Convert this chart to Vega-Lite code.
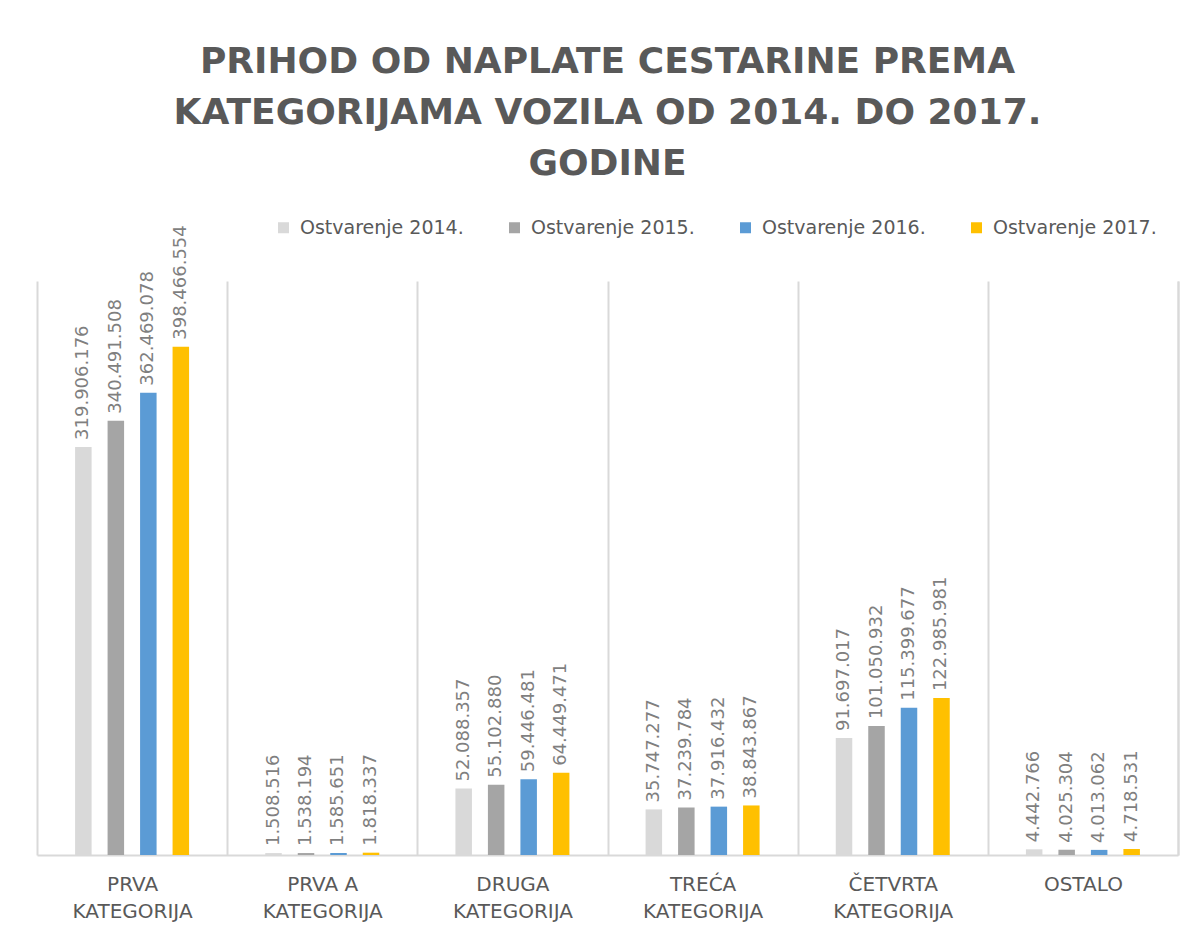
{
  "$schema": "https://vega.github.io/schema/vega-lite/v6.json",
  "width": 1141,
  "height": 574,
  "autosize": {"type": "none"},
  "padding": {"left": 37, "top": 281, "right": 19, "bottom": 77},
  "background": "white",
  "title": {
    "text": ["PRIHOD OD NAPLATE CESTARINE PREMA", "KATEGORIJAMA VOZILA OD 2014. DO  2017.", "GODINE"],
    "anchor": "middle",
    "font": "DejaVu Sans",
    "fontSize": 36,
    "fontWeight": "bold",
    "color": "#595959",
    "lineHeight": 51,
    "offset": 35
  },
  "data": {
    "values": [
      {"kategorija": "Prva kategorija", "serija": "Ostvarenje 2014.", "prihod": 319906176},
      {"kategorija": "Prva kategorija", "serija": "Ostvarenje 2015.", "prihod": 340491508},
      {"kategorija": "Prva kategorija", "serija": "Ostvarenje 2016.", "prihod": 362469078},
      {"kategorija": "Prva kategorija", "serija": "Ostvarenje 2017.", "prihod": 398466554},
      {"kategorija": "Prva A kategorija", "serija": "Ostvarenje 2014.", "prihod": 1508516},
      {"kategorija": "Prva A kategorija", "serija": "Ostvarenje 2015.", "prihod": 1538194},
      {"kategorija": "Prva A kategorija", "serija": "Ostvarenje 2016.", "prihod": 1585651},
      {"kategorija": "Prva A kategorija", "serija": "Ostvarenje 2017.", "prihod": 1818337},
      {"kategorija": "Druga kategorija", "serija": "Ostvarenje 2014.", "prihod": 52088357},
      {"kategorija": "Druga kategorija", "serija": "Ostvarenje 2015.", "prihod": 55102880},
      {"kategorija": "Druga kategorija", "serija": "Ostvarenje 2016.", "prihod": 59446481},
      {"kategorija": "Druga kategorija", "serija": "Ostvarenje 2017.", "prihod": 64449471},
      {"kategorija": "Treća kategorija", "serija": "Ostvarenje 2014.", "prihod": 35747277},
      {"kategorija": "Treća kategorija", "serija": "Ostvarenje 2015.", "prihod": 37239784},
      {"kategorija": "Treća kategorija", "serija": "Ostvarenje 2016.", "prihod": 37916432},
      {"kategorija": "Treća kategorija", "serija": "Ostvarenje 2017.", "prihod": 38843867},
      {"kategorija": "Četvrta kategorija", "serija": "Ostvarenje 2014.", "prihod": 91697017},
      {"kategorija": "Četvrta kategorija", "serija": "Ostvarenje 2015.", "prihod": 101050932},
      {"kategorija": "Četvrta kategorija", "serija": "Ostvarenje 2016.", "prihod": 115399677},
      {"kategorija": "Četvrta kategorija", "serija": "Ostvarenje 2017.", "prihod": 122985981},
      {"kategorija": "Ostalo", "serija": "Ostvarenje 2014.", "prihod": 4442766},
      {"kategorija": "Ostalo", "serija": "Ostvarenje 2015.", "prihod": 4025304},
      {"kategorija": "Ostalo", "serija": "Ostvarenje 2016.", "prihod": 4013062},
      {"kategorija": "Ostalo", "serija": "Ostvarenje 2017.", "prihod": 4718531}
    ]
  },
  "encoding": {
    "x": {
      "field": "kategorija",
      "type": "nominal",
      "sort": ["Prva kategorija", "Prva A kategorija", "Druga kategorija", "Treća kategorija", "Četvrta kategorija", "Ostalo"],
      "scale": {"paddingInner": 0, "paddingOuter": 0},
      "axis": {
        "title": null,
        "labelAngle": 0,
        "labelFont": "DejaVu Sans",
        "labelFontSize": 20,
        "labelColor": "#595959",
        "labelLineHeight": 27,
        "labelBaseline": "top",
        "labelPadding": 19,
        "ticks": false,
        "tickSize": 0,
        "tickBand": "extent",
        "domainColor": "#d9d9d9",
        "domainWidth": 2,
        "grid": true,
        "gridColor": "#d9d9d9",
        "gridWidth": 2,
        "labelExpr": "!datum.label ? '' : (datum.label == 'Ostalo' ? 'OSTALO' : [upper(replace(datum.label, ' kategorija', '')), 'KATEGORIJA'])"
      }
    },
    "xOffset": {
      "field": "serija",
      "type": "nominal",
      "scale": {
        "domain": ["lijevo", "Ostvarenje 2014.", "Ostvarenje 2015.", "Ostvarenje 2016.", "Ostvarenje 2017.", "desno"],
        "paddingInner": 0.492,
        "paddingOuter": 0.172
      }
    },
    "y": {
      "field": "prihod",
      "type": "quantitative",
      "scale": {"domain": [0, 450000000]},
      "axis": {
        "orient": "right",
        "labels": false,
        "ticks": false,
        "grid": false,
        "title": null,
        "domain": true,
        "domainColor": "#d9d9d9",
        "domainWidth": 2
      }
    }
  },
  "layer": [
    {
      "mark": {"type": "bar"},
      "encoding": {
        "color": {
          "field": "serija",
          "type": "nominal",
          "scale": {
            "domain": ["Ostvarenje 2014.", "Ostvarenje 2015.", "Ostvarenje 2016.", "Ostvarenje 2017."],
            "range": ["#d9d9d9", "#a5a5a5", "#5b9bd5", "#ffc000"]
          },
          "legend": {
            "orient": "none",
            "legendX": 237,
            "legendY": -63,
            "direction": "horizontal",
            "columns": 4,
            "title": null,
            "symbolType": "square",
            "symbolSize": 121,
            "symbolStrokeWidth": 0,
            "labelFont": "DejaVu Sans",
            "labelFontSize": 19,
            "labelColor": "#595959",
            "labelOffset": 7,
            "columnPadding": 41,
            "labelLimit": 300,
            "padding": 0
          }
        }
      }
    },
    {
      "mark": {
        "type": "text",
        "angle": 270,
        "align": "left",
        "baseline": "middle",
        "dx": 7,
        "font": "DejaVu Sans",
        "fontSize": 18,
        "color": "#7f7f7f"
      },
      "encoding": {
        "text": {"field": "prihod", "type": "quantitative", "format": ",d"}
      }
    }
  ],
  "config": {
    "view": {"stroke": null},
    "locale": {
      "number": {"decimal": ",", "thousands": ".", "grouping": [3], "currency": ["", " kn"]}
    }
  }
}
